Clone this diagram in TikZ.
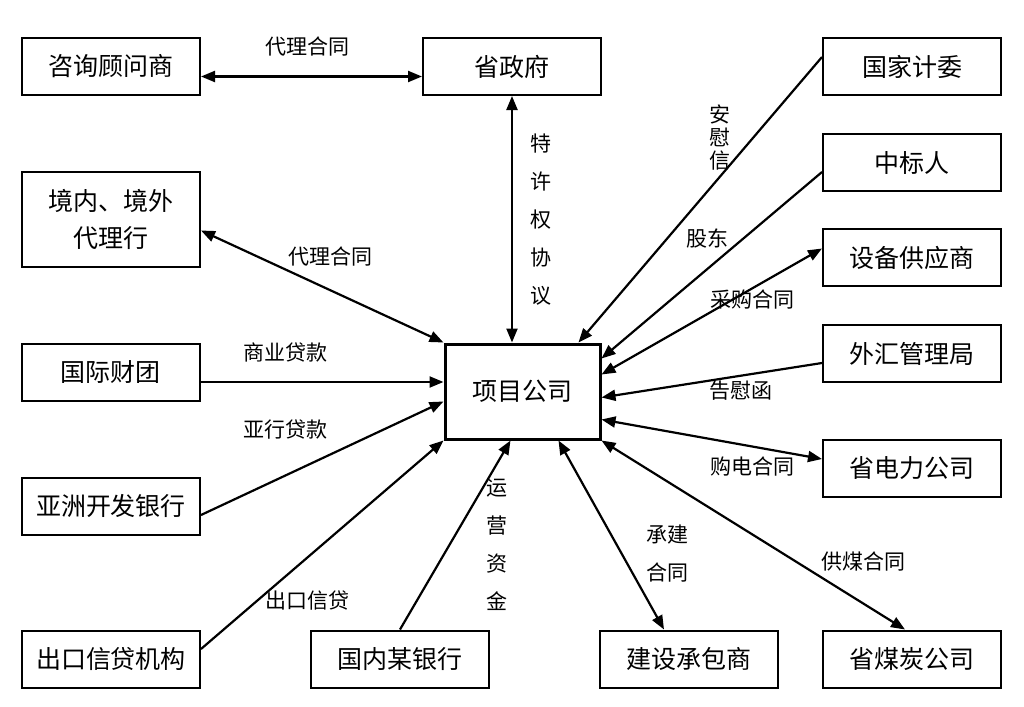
\documentclass[tikz,border=0pt]{standalone}
\usepackage{fontspec}
\newfontfamily\cjk{Noto Sans CJK SC}
\usetikzlibrary{arrows.meta,calc}
\begin{document}
\begin{tikzpicture}[x=0.5pt,y=-0.5pt,
		box/.style={draw,line width=1pt,minimum width=89pt,minimum height=28.5pt,inner sep=0,
			font=\cjk\fontsize{12.5}{18.5}\selectfont},
		lbl/.style={inner sep=0,font=\cjk\fontsize{10.5}{12}\selectfont},
		vlbl/.style={inner sep=0,align=center,font=\cjk\fontsize{10.5}{19}\selectfont},
		link/.style={line width=1.1pt,-{Triangle[length=7pt,width=5.5pt]}},
		both/.style={line width=1.1pt,{Triangle[length=7pt,width=5.5pt]}-{Triangle[length=7pt,width=5.5pt]}}]
	\fill[white] (0,0) rectangle (1024,707);
	\useasboundingbox (0,0) rectangle (1024,707);
	\node[box] (zx) at (111,66.5) {咨询顾问商};
	\node[box] (szf) at (512,66.5) {省政府};
	\node[box] (jw) at (912,66.5) {国家计委};
	\node[box] (zbr) at (912,162.5) {中标人};
	\node[box] (sb) at (912,257.5) {设备供应商};
	\node[box] (wh) at (912,353.5) {外汇管理局};
	\node[box] (dl) at (912,468) {省电力公司};
	\node[box] (mt) at (912,659) {省煤炭公司};
	\node[box] (js) at (689,659) {建设承包商};
	\node[box] (gn) at (400,659) {国内某银行};
	\node[box] (ck) at (111,659) {出口信贷机构};
	\node[box] (yz) at (111,506) {亚洲开发银行};
	\node[box] (ct) at (111,372.5) {国际财团};
	\node[box,minimum height=47.5pt,align=center] (dlh) at (111,219.5) {境内、境外\\代理行};
	\node[box,line width=1.5pt,minimum width=77.5pt,minimum height=47.5pt] (xm) at (522.5,391.5) {项目公司};
	\draw[both] ($(zx.east)+(0,10)$) -- ($(szf.west)+(0,10)$);
	\draw[both] (szf.south) -- (xm.north -| szf.south);
	\draw[link] ($(jw.west)+(0,-9.5)$) -- ($(xm.north west)+(135,0)$);
	\draw[link] ($(zbr.west)+(0,9.5)$) -- ($(xm.north east)+(0,16)$);
	\draw[both] ($(xm.north east)+(0,32)$) -- ($(sb.west)+(0,-9)$);
	\draw[link] ($(wh.west)+(0,9.5)$) -- ($(xm.north east)+(0,55)$);
	\draw[both] ($(xm.north east)+(0,77)$) -- ($(dl.west)+(0,-9)$);
	\draw[both] (xm.south east) -- ($(mt.north)+(-7,0)$);
	\draw[both] ($(xm.south west)+(115,0)$) -- ($(js.north west)+(65,0)$);
	\draw[link] (gn.north) -- ($(xm.south west)+(67,0)$);
	\draw[link] ($(ck.east)+(0,-10)$) -- (xm.south west);
	\draw[link] ($(yz.east)+(0,9)$) -- ($(xm.west)+(0,10)$);
	\draw[link] ($(ct.east)+(0,9.5)$) -- ($(xm.west)+(0,-9.5)$);
	\draw[both] ($(dlh.east)+(0,11)$) -- (xm.north west);
	\node[lbl] (l1) at (307,47) {代理合同};
	\node[vlbl] (l2) at (541,219.5) {特\\许\\权\\协\\议};
	\node[vlbl,font=\cjk\fontsize{10.5}{11.5}\selectfont] (l3) at (720,138) {安\\慰\\信};
	\node[lbl] (l4) at (707,238) {股东};
	\node[lbl] (l5) at (752,300) {采购合同};
	\node[lbl] (l6) at (741,391) {告慰函};
	\node[lbl] (l7) at (752,467) {购电合同};
	\node[lbl] (l8) at (863,562) {供煤合同};
	\node[vlbl] (l9) at (667,554) {承建\\合同};
	\node[vlbl] (l10) at (497,544.5) {运\\营\\资\\金};
	\node[lbl] (l11) at (307,601) {出口信贷};
	\node[lbl] (l12) at (285,430) {亚行贷款};
	\node[lbl] (l13) at (285,353) {商业贷款};
	\node[lbl] (l14) at (330,257) {代理合同};
\end{tikzpicture}
\end{document}
